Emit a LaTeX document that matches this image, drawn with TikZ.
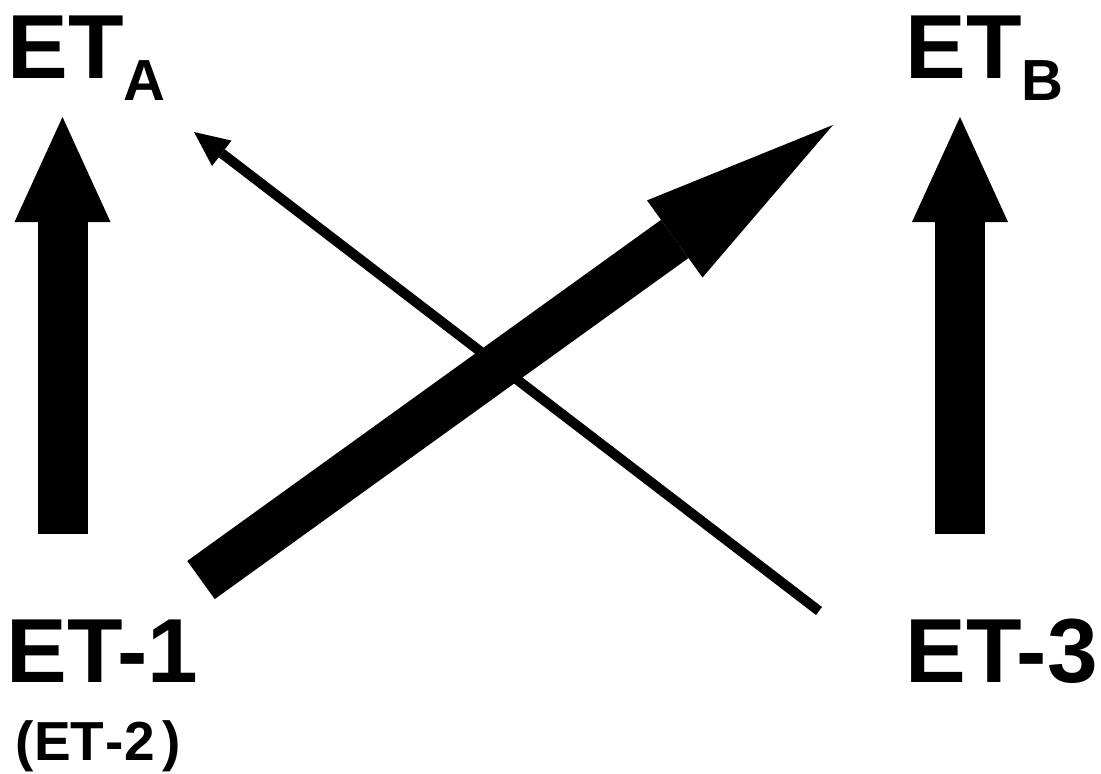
\documentclass[tikz,border=0pt]{standalone}
\usepackage{fontspec}
\setmainfont{Liberation Sans}
\usetikzlibrary{arrows.meta,calc}
\tikzset{
  big/.style={inner sep=0pt, outer sep=0pt, anchor=base west, font=\bfseries\fontsize{91}{91}\selectfont},
  subl/.style={inner sep=0pt, outer sep=0pt, anchor=base west, font=\bfseries\fontsize{58}{58}\selectfont},
  small/.style={inner sep=0pt, outer sep=0pt, anchor=base west, font=\bfseries\fontsize{55}{55}\selectfont},
  thickarrow/.style={line width=50pt, line cap=butt, -{Triangle[length=105pt,width=96pt,line width=0pt]}},
  diagarrow/.style={line width=47pt, line cap=butt, -{Triangle[length=195pt,width=95pt,line width=0pt]}},
  thinarrow/.style={line width=10pt, line cap=butt, -{Triangle[length=35pt,width=32pt,line width=0pt]}}
}
\begin{document}
\begin{tikzpicture}[x=1pt,y=-1pt]
\useasboundingbox (0,0) rectangle (1101,774);
% labels
\node[big] (eta) at (7.4,78) {ET};
\node[subl] (etaA) at ($(eta.base east)+(0,22)$) {A};
\node[big] (etb) at (905.4,78) {ET};
\node[subl] (etbB) at ($(etb.base east)+(0,22)$) {B};
\node[big] (et1) at (6.4,682) {ET-1};
\node[small] (et2) at (16,760) {(ET\kern1pt-\kern1pt2\kern7pt)};
\node[big] (et3) at (905.4,682) {ET-3};
% arrow endpoints
\coordinate (la0) at (62.5,534);
\coordinate (la1) at (62.5,117);
\coordinate (ra0) at (960,534);
\coordinate (ra1) at (960,117);
\coordinate (d0) at (201,580);
\coordinate (d1) at (833,125);
\coordinate (t0) at (819,611);
\coordinate (t1) at (194,132);
% arrows
\draw[thickarrow] (la0) -- (la1);
\draw[thickarrow] (ra0) -- (ra1);
\draw[thinarrow] (t0) -- (t1);
\draw[diagarrow] (d0) -- (d1);
\end{tikzpicture}
\end{document}
